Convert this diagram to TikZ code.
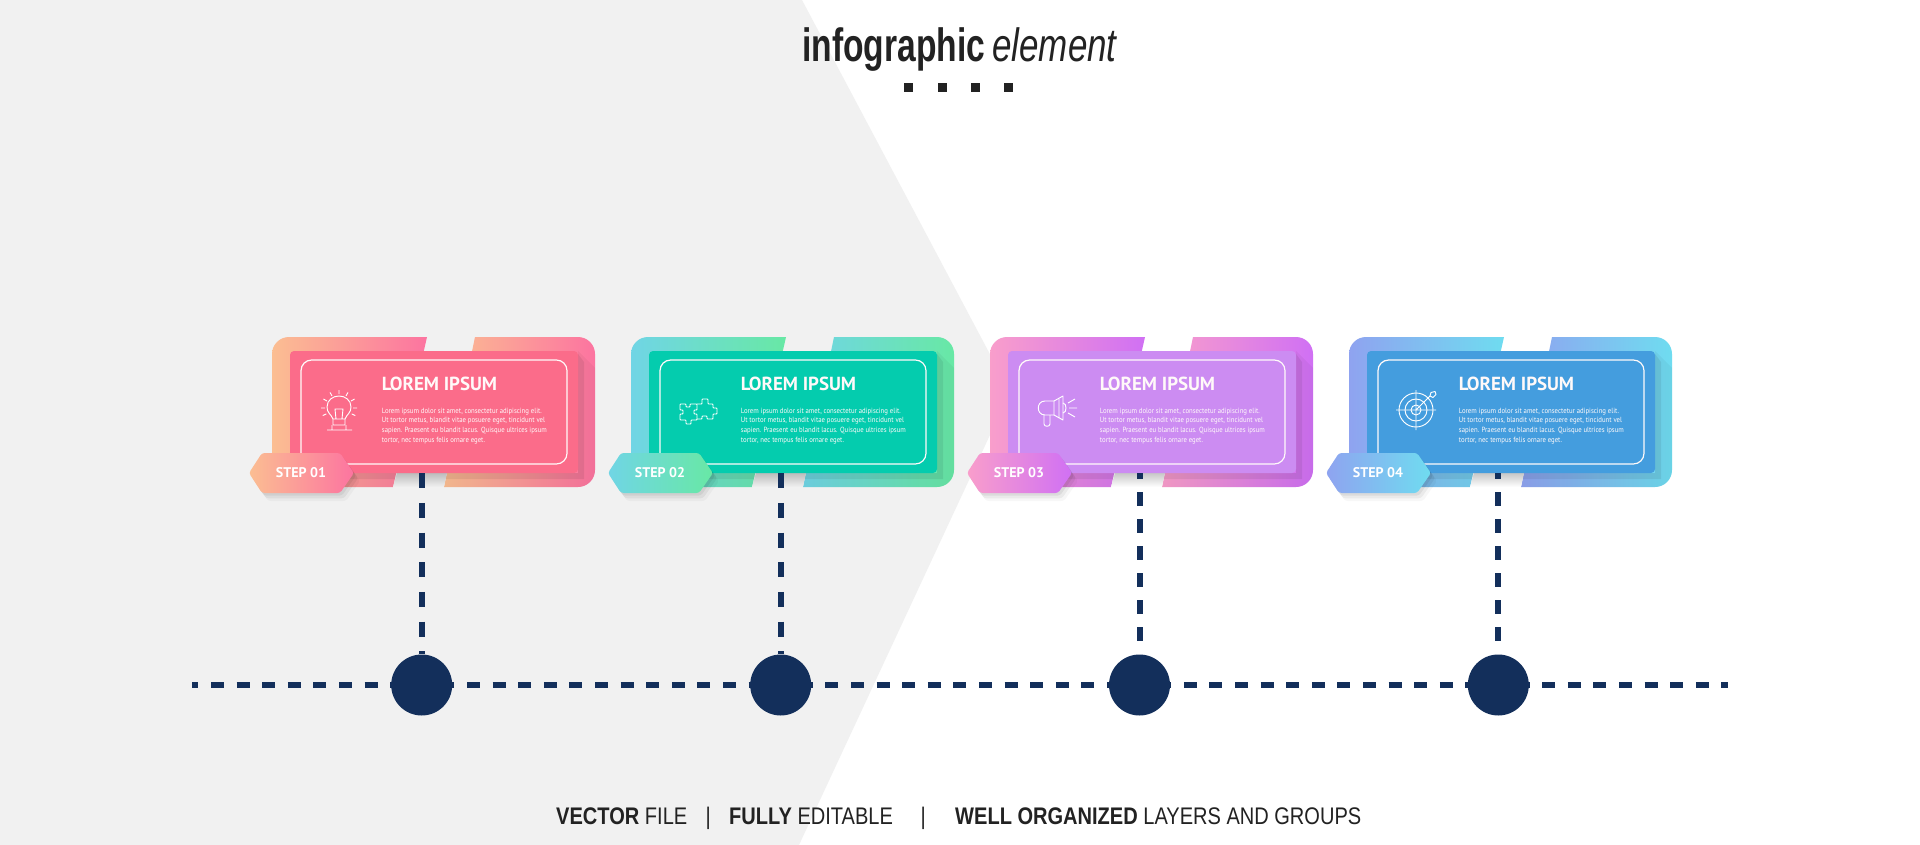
\documentclass[tikz,border=0pt]{standalone}
\usepackage{fontspec}
\setmainfont{Liberation Sans}
\newfontfamily\cardfont{PT Sans}
\definecolor{bggray}{RGB}{241,241,241}
\definecolor{navy}{RGB}{19,47,91}
\definecolor{inkgray}{RGB}{34,34,34}
\definecolor{pinkfront}{RGB}{251,108,138}
\definecolor{greenfront}{RGB}{4,204,174}
\definecolor{violetfront}{RGB}{204,140,242}
\definecolor{bluefront}{RGB}{68,157,222}
\tikzset{
  pinkback/.style={left color={rgb,255:red,251;green,190;blue,146},right color={rgb,255:red,252;green,116;blue,160}},
  greenback/.style={left color={rgb,255:red,112;green,213;blue,229},right color={rgb,255:red,104;green,232;blue,165}},
  violetback/.style={left color={rgb,255:red,249;green,158;blue,203},right color={rgb,255:red,208;green,112;blue,244}},
  blueback/.style={left color={rgb,255:red,143;green,163;blue,240},right color={rgb,255:red,111;green,220;blue,240}},
  panelshadow/.style={fill=black,opacity=0.04},
  panelshadowdark/.style={fill=black,opacity=0.07},
  frontpanel/.style={rectangle,rounded corners=3pt,minimum width=216pt,minimum height=91.5pt},
  innerframe/.style={rectangle,draw=white!92!pink,line width=0.9pt,rounded corners=8pt,minimum width=199.5pt,minimum height=78pt},
  steptag/.style={rounded corners=2pt,
    preaction={fill=black,opacity=0.06,transform canvas={xshift=1.5pt,yshift=-2pt}},
    preaction={fill=black,opacity=0.05,transform canvas={xshift=3pt,yshift=-4pt}},
    preaction={fill=black,opacity=0.03,transform canvas={xshift=4.5pt,yshift=-6pt}}},
  steplabel/.style={text=white,font=\cardfont\bfseries\fontsize{10.5}{12}\selectfont,inner sep=0pt},
  cardtitle/.style={text=white!90!pink,anchor=base west,font=\cardfont\bfseries\fontsize{14.2}{16}\selectfont,inner sep=0pt},
  cardbody/.style={text=white!92!pink,anchor=west,align=left,xscale=0.905,font=\cardfont\fontsize{5.6}{7.35}\selectfont,inner sep=0pt},
  iconline/.style={draw=white,line width=0.7pt,line join=round},
  hdash/.style={draw=navy,line width=4.9pt,dash pattern=on 9.75pt off 9.45pt,dash phase=4.95pt},
  vdasha/.style={draw=navy,line width=4.5pt,dash pattern=on 11.25pt off 11pt},
  vdashb/.style={draw=navy,line width=4.5pt,dash pattern=on 10.5pt off 9.75pt,dash phase=6pt},
  dotnode/.style={circle,fill=navy,minimum size=45.75pt,inner sep=0pt},
  squaredot/.style={rectangle,fill=inkgray,minimum size=6.75pt,inner sep=0pt},
  headline/.style={text=inkgray,inner sep=0pt,anchor=base west},
  footline/.style={text=inkgray,inner sep=0pt,anchor=base west,font=\fontsize{18}{20}\selectfont,xscale=0.835}
}
\begin{document}
\begin{tikzpicture}[x=0.75pt,y=0.75pt,yscale=-1,xscale=1]
\useasboundingbox (0,0) rectangle (1920,845);

%Shape: Background
\fill [white] (0,0) rectangle (1920,845);
\fill [bggray] (0,0) -- (802,0) -- (1010,392) -- (799,845) -- (0,845) -- cycle;

% Title
\node [headline,font=\bfseries\fontsize{35}{38}\selectfont,xscale=0.72] (titlemain) at (802,62) {infographic};
\node [headline,font=\itshape\fontsize{35}{38}\selectfont,xscale=0.75] (titleitalic) at (992,62) {element};
\node [squaredot] (square1) at (908.5,87.5) {};
\node [squaredot] (square2) at (942,87.5) {};
\node [squaredot] (square3) at (975.5,87.5) {};
\node [squaredot] (square4) at (1008.5,87.5) {};

%Shape: Card 1 back
\draw  [draw=none,pinkback] (427,337) -- (393,487) -- (289,487) .. controls (279.6,487) and (272,479.4) .. (272,470) -- (272,354) .. controls (272,344.6) and (279.6,337) .. (289,337) -- cycle ;
\draw  [draw=none,pinkback] (475,337) -- (578,337) .. controls (587.4,337) and (595,344.6) .. (595,354) -- (595,470) .. controls (595,479.4) and (587.4,487) .. (578,487) -- (444,487) -- cycle ;
\fill  [panelshadow] (578,351) -- (595,368) -- (595,470) .. controls (595,479.4) and (587.4,487) .. (578,487) -- (444,487) -- (447,473) -- (578,473) -- cycle (393,487) -- (397,473) -- (345,473) -- (345,487) -- cycle ;
\fill  [panelshadowdark] (578,354) -- (584,362) -- (584,479) -- (445.5,479) -- (447,473) -- (578,473) -- cycle (395,479) -- (397,473) -- (345,473) -- (345,479) -- cycle ;
\shade  [top color=black!22!bggray,bottom color=bggray] (397,473) -- (447,473) -- (444,487) -- (393,487) -- cycle ;

%Shape: Card 2 back
\draw  [draw=none,greenback] (786,337) -- (752,487) -- (648,487) .. controls (638.6,487) and (631,479.4) .. (631,470) -- (631,354) .. controls (631,344.6) and (638.6,337) .. (648,337) -- cycle ;
\draw  [draw=none,greenback] (834,337) -- (937,337) .. controls (946.4,337) and (954,344.6) .. (954,354) -- (954,470) .. controls (954,479.4) and (946.4,487) .. (937,487) -- (803,487) -- cycle ;
\fill  [panelshadow] (937,351) -- (954,368) -- (954,470) .. controls (954,479.4) and (946.4,487) .. (937,487) -- (803,487) -- (806,473) -- (937,473) -- cycle (752,487) -- (756,473) -- (704,473) -- (704,487) -- cycle ;
\fill  [panelshadowdark] (937,354) -- (943,362) -- (943,479) -- (804.5,479) -- (806,473) -- (937,473) -- cycle (754,479) -- (756,473) -- (704,473) -- (704,479) -- cycle ;
\shade  [top color=black!22!bggray,bottom color=bggray] (756,473) -- (806,473) -- (803,487) -- (752,487) -- cycle ;

%Shape: Card 3 back
\draw  [draw=none,violetback] (1145,337) -- (1111,487) -- (1007,487) .. controls (997.6,487) and (990,479.4) .. (990,470) -- (990,354) .. controls (990,344.6) and (997.6,337) .. (1007,337) -- cycle ;
\draw  [draw=none,violetback] (1193,337) -- (1296,337) .. controls (1305.4,337) and (1313,344.6) .. (1313,354) -- (1313,470) .. controls (1313,479.4) and (1305.4,487) .. (1296,487) -- (1162,487) -- cycle ;
\fill  [panelshadow] (1296,351) -- (1313,368) -- (1313,470) .. controls (1313,479.4) and (1305.4,487) .. (1296,487) -- (1162,487) -- (1165,473) -- (1296,473) -- cycle (1111,487) -- (1115,473) -- (1063,473) -- (1063,487) -- cycle ;
\fill  [panelshadowdark] (1296,354) -- (1302,362) -- (1302,479) -- (1163.5,479) -- (1165,473) -- (1296,473) -- cycle (1113,479) -- (1115,473) -- (1063,473) -- (1063,479) -- cycle ;
\shade  [top color=black!22,bottom color=white] (1115,473) -- (1165,473) -- (1162,487) -- (1111,487) -- cycle ;

%Shape: Card 4 back
\draw  [draw=none,blueback] (1504,337) -- (1470,487) -- (1366,487) .. controls (1356.6,487) and (1349,479.4) .. (1349,470) -- (1349,354) .. controls (1349,344.6) and (1356.6,337) .. (1366,337) -- cycle ;
\draw  [draw=none,blueback] (1552,337) -- (1655,337) .. controls (1664.4,337) and (1672,344.6) .. (1672,354) -- (1672,470) .. controls (1672,479.4) and (1664.4,487) .. (1655,487) -- (1521,487) -- cycle ;
\fill  [panelshadow] (1655,351) -- (1672,368) -- (1672,470) .. controls (1672,479.4) and (1664.4,487) .. (1655,487) -- (1521,487) -- (1524,473) -- (1655,473) -- cycle (1470,487) -- (1474,473) -- (1422,473) -- (1422,487) -- cycle ;
\fill  [panelshadowdark] (1655,354) -- (1661,362) -- (1661,479) -- (1522.5,479) -- (1524,473) -- (1655,473) -- cycle (1472,479) -- (1474,473) -- (1422,473) -- (1422,479) -- cycle ;
\shade  [top color=black!22,bottom color=white] (1474,473) -- (1524,473) -- (1521,487) -- (1470,487) -- cycle ;

% Front panels
\node [frontpanel,fill=pinkfront] (front1) at (434,412) {};
\node [innerframe] (frame1) at (434,412) {};
\node [frontpanel,fill=greenfront] (front2) at (793,412) {};
\node [innerframe] (frame2) at (793,412) {};
\node [frontpanel,fill=violetfront] (front3) at (1152,412) {};
\node [innerframe] (frame3) at (1152,412) {};
\node [frontpanel,fill=bluefront] (front4) at (1511,412) {};
\node [innerframe] (frame4) at (1511,412) {};

% Timeline
\coordinate (linestart) at (192,685);
\coordinate (lineend) at (1728,685);
\draw [hdash] (linestart) -- (lineend);
\node [dotnode] (dot1) at (421.7,685) {};
\node [dotnode] (dot2) at (780.7,685) {};
\node [dotnode] (dot3) at (1139.5,685) {};
\node [dotnode] (dot4) at (1498.3,685) {};
\draw [vdasha] (dot1.north |- front1.south) -- (dot1.north);
\draw [vdasha] (dot2.north |- front2.south) -- (dot2.north);
\draw [vdashb] (dot3.north |- front3.south) -- (dot3.north);
\draw [vdashb] (dot4.north |- front4.south) -- (dot4.north);

% Step tags
\draw  [draw=none,steptag,pinkback] (249,473) -- (262,453) -- (340,453) -- (354,473) -- (340,493) -- (262,493) -- cycle ;
\draw  [draw=none,steptag,greenback] (608,473) -- (621,453) -- (699,453) -- (713,473) -- (699,493) -- (621,493) -- cycle ;
\draw  [draw=none,steptag,violetback] (967,473) -- (980,453) -- (1058,453) -- (1072,473) -- (1058,493) -- (980,493) -- cycle ;
\draw  [draw=none,steptag,blueback] (1326,473) -- (1339,453) -- (1417,453) -- (1431,473) -- (1417,493) -- (1339,493) -- cycle ;
\node [steplabel] (step1) at (301,473) {STEP 01};
\node [steplabel] (step2) at (660,473) {STEP 02};
\node [steplabel] (step3) at (1019,473) {STEP 03};
\node [steplabel] (step4) at (1378,473) {STEP 04};

% Text Node
\node [cardtitle] (title1) at (381.7,390.7) {LOREM IPSUM};
\node [cardbody] (body1) at (381.7,426) {Lorem ipsum dolor sit amet, consectetur adipiscing elit.\\Ut tortor metus, blandit vitae posuere eget, tincidunt vel\\sapien. Praesent eu blandit lacus. Quisque ultrices ipsum\\tortor, nec tempus felis ornare eget.};
\node [cardtitle] (title2) at (740.7,390.7) {LOREM IPSUM};
\node [cardbody] (body2) at (740.7,426) {Lorem ipsum dolor sit amet, consectetur adipiscing elit.\\Ut tortor metus, blandit vitae posuere eget, tincidunt vel\\sapien. Praesent eu blandit lacus. Quisque ultrices ipsum\\tortor, nec tempus felis ornare eget.};
\node [cardtitle] (title3) at (1099.7,390.7) {LOREM IPSUM};
\node [cardbody] (body3) at (1099.7,426) {Lorem ipsum dolor sit amet, consectetur adipiscing elit.\\Ut tortor metus, blandit vitae posuere eget, tincidunt vel\\sapien. Praesent eu blandit lacus. Quisque ultrices ipsum\\tortor, nec tempus felis ornare eget.};
\node [cardtitle] (title4) at (1458.7,390.7) {LOREM IPSUM};
\node [cardbody] (body4) at (1458.7,426) {Lorem ipsum dolor sit amet, consectetur adipiscing elit.\\Ut tortor metus, blandit vitae posuere eget, tincidunt vel\\sapien. Praesent eu blandit lacus. Quisque ultrices ipsum\\tortor, nec tempus felis ornare eget.};

%Icon: Bulb
\draw  [iconline] (333,419) .. controls (331,414) and (327,413) .. (327,407) .. controls (327,400) and (333,396) .. (339,396) .. controls (345,396) and (351,400) .. (351,407) .. controls (351,413) and (347,414) .. (345,419) -- (345,425) -- (333,425) -- cycle ;
\draw  [iconline] (333,419) -- (345,419) (336,419) -- (335,409) -- (343,409) -- (342,419) (327,430) -- (352,430) (332,425) -- (332,430) (346,425) -- (346,430) ;
\draw  [iconline] (339,394) -- (339,390) (346,395.9) -- (348,392.4) (351.1,401) -- (354.6,399) (353,408) -- (357,408) (351.7,413.9) -- (355.3,415.6) (332,395.9) -- (330,392.4) (326.9,401) -- (323.4,399) (325,408) -- (321,408) (326.3,413.9) -- (322.7,415.6) ;

%Icon: Puzzle
\draw  [iconline,rounded corners=0.5pt] (680,404) -- (686,404) -- (686,407) -- (690,407) -- (690,404) -- (697,404) -- (697,410) -- (694,410) -- (694,414) -- (697,414) -- (697,420) -- (691,420) -- (691,424) -- (686,424) -- (686,420) -- (680,420) -- (680,414) -- (683,414) -- (683,410) -- (680,410) -- cycle ;
\draw  [iconline,rounded corners=0.5pt] (697,404) -- (702,404) -- (702,399) -- (708,399) -- (708,404) -- (713,404) -- (713,408) -- (717,408) -- (717,414) -- (713,414) -- (713,419) -- (707,419) -- (707,416) -- (702,416) -- (702,419) -- (697,419) ;

%Icon: Megaphone
\draw  [iconline] (1045,401) -- (1054,401) -- (1063,396) -- (1063,420) -- (1054,415) -- (1045,415) .. controls (1036,415) and (1036,401) .. (1045,401) -- cycle ;
\draw  [iconline] (1054,401) -- (1054,415) (1059,399) -- (1059,418) (1063,403) .. controls (1067,403) and (1067,413) .. (1063,413) (1044,415) -- (1044,424) .. controls (1044,427) and (1050,427) .. (1050,424) -- (1050,415) ;
\draw  [iconline] (1068,403) -- (1075,399) (1069,408) -- (1077,408) (1068,413) -- (1075,417) ;

%Icon: Target
\draw  [iconline] (1416,410) circle (17) (1416,410) circle (11) (1416,410) circle (5) ;
\draw  [iconline] (1416,390) -- (1416,430) (1396,410) -- (1436,410) (1416,410) -- (1430,396) ;
\draw  [iconline] (1430,396) -- (1431,392.5) -- (1435,391.5) -- (1436,394.5) -- (1433,397.5) -- cycle ;

% Footer
\node [footline] (footer1) at (556,824) {\textbf{VECTOR} FILE};
\node [footline] (footbar1) at (705.5,824) {|};
\node [footline] (footer2) at (729,824) {\textbf{FULLY} EDITABLE};
\node [footline] (footbar2) at (920.5,824) {|};
\node [footline] (footer3) at (955,824) {\textbf{WELL ORGANIZED} LAYERS AND GROUPS};

\end{tikzpicture}
\end{document}
